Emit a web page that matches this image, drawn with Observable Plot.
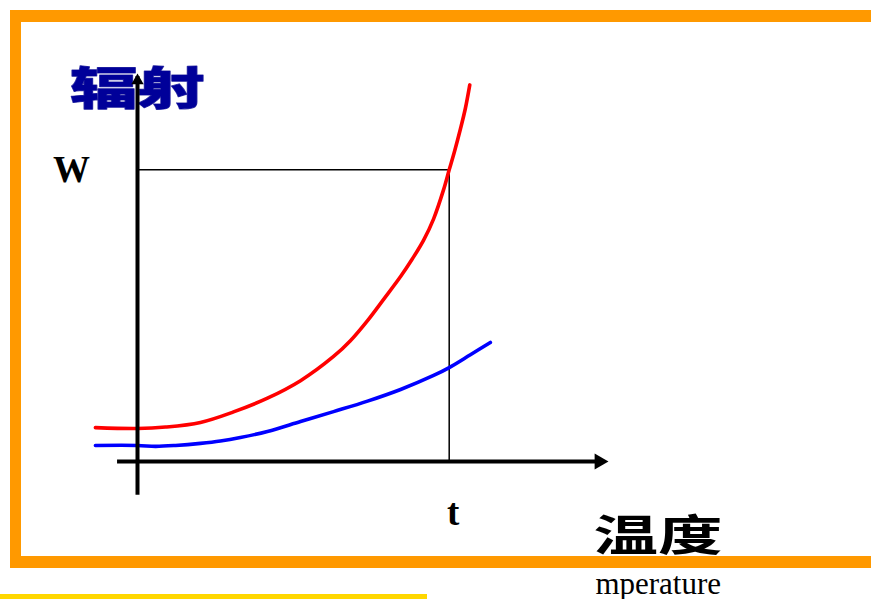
<!DOCTYPE html>
<html><head><meta charset="utf-8">
<script src="https://cdn.jsdelivr.net/npm/d3@7"></script>
<script src="https://cdn.jsdelivr.net/npm/@observablehq/plot@0.6"></script>
<style>
body{margin:0;background:#fff;overflow:hidden}
#wrap{position:relative;width:871px;height:599px;overflow:hidden;background:#fff}
#wrap svg{position:absolute;left:0;top:0}
.band{position:absolute}
</style></head><body>
<div id="wrap"></div>
<script>
// Red curve (higher radiation)
const redTemp = [-13.5, 0, 9.0, 20.2, 30.8, 41.7, 52.3, 62.9, 68.3, 73.8, 78.9, 84.4, 88.2, 91.8, 95.0, 98.2, 100, 101.7, 103.6, 105.2, 106.6];
const redRad  = [11.6, 11.3, 11.8, 13.4, 17.0, 21.7, 27.7, 36.0, 41.4, 48.3, 55.5, 63.4, 69.5, 75.9, 83.2, 93.2, 100, 106.3, 114.0, 121.1, 129.1];
// Blue curve (lower radiation)
const blueTemp = [-13.5, 0, 5.8, 12.2, 20.2, 26.6, 33.0, 41.7, 52.3, 62.9, 73.8, 84.4, 95.0, 100, 106.8, 113.2];
const blueRad  = [5.5, 5.5, 5.2, 5.5, 6.2, 7.0, 8.2, 10.3, 13.7, 17.1, 20.7, 24.7, 29.5, 32.2, 36.6, 40.8];
// Marked values and labels
const wValue = [100];
const tValue = [100];
const yTickLabels = ["W"];
const xTickLabels = ["t"];
const yTitle = ["辐射"];
const xTitle = ["温度"];
const xTitleEn = ["mperature"];
// Axis extents (data units)
const xAxisExtent = [-6.4, 151.1];
const yAxisExtent = [-11.6, 133.0];

const red = redTemp.map((t, i) => ({t, r: redRad[i]}));
const blue = blueTemp.map((t, i) => ({t, r: blueRad[i]}));
const W = wValue[0], T = tValue[0];
const guide = [{t: 0, r: W}, {t: T, r: W}, {t: T, r: 0}];

const serif = "'Liberation Serif', 'Times New Roman', serif";
const cjk = "'Noto Sans CJK SC', sans-serif";

const chart = Plot.plot({
  width: 871,
  height: 599,
  x: {domain: [0, 100], range: [137, 448.7], axis: null},
  y: {domain: [0, 100], range: [461, 169.3], axis: null},
  style: {background: "transparent", overflow: "visible"},
  marks: [
    Plot.text(yTitle, {x: [0], y: [127.2], text: d => d, fontFamily: cjk, fontWeight: 900, fontSize: 45, fill: "#000099", stroke: "#3a3aa8", strokeWidth: 1, textAnchor: "middle", lineAnchor: "middle"}),
    Plot.text(xTitle, {x: [167], y: [-25.9], text: d => d, fontFamily: cjk, fontWeight: 700, fontSize: 43, fill: "#000", textAnchor: "middle", lineAnchor: "middle"}),
    Plot.text(xTitleEn, {x: [146.9], y: [-42.1], text: d => d, fontFamily: serif, fontSize: 31, fill: "#000", textAnchor: "start", lineAnchor: "middle"}),
    Plot.text(yTickLabels, {x: [0], y: wValue, text: d => d, dx: -66, fontFamily: serif, fontWeight: 700, fontSize: 37, fill: "#000", textAnchor: "middle", lineAnchor: "middle"}),
    Plot.text(xTickLabels, {x: tValue, y: [0], text: d => d, dx: 4, dy: 52, fontFamily: serif, fontWeight: 700, fontSize: 37, fill: "#000", textAnchor: "middle", lineAnchor: "middle"}),
    Plot.line(guide, {x: "t", y: "r", stroke: "#000", strokeWidth: 1.5, strokeLinejoin: "miter"}),
    Plot.line(blue, {x: "t", y: "r", stroke: "#0000ff", strokeWidth: 3.6, curve: "catmull-rom"}),
    Plot.line(red, {x: "t", y: "r", stroke: "#ff0000", strokeWidth: 3.6, curve: "catmull-rom"}),
    Plot.ruleY([0], {x1: xAxisExtent[0], x2: xAxisExtent[1] - 2, stroke: "#000", strokeWidth: 4}),
    Plot.ruleX([0], {y1: yAxisExtent[0], y2: yAxisExtent[1] - 1, stroke: "#000", strokeWidth: 4}),
    Plot.dot([{t: xAxisExtent[1], r: 0}], {x: "t", y: "r", symbol: "triangle", r: 5.94, fill: "#000", stroke: "none", rotate: 90, dx: -9.24}),
    Plot.dot([{t: 0, r: yAxisExtent[1]}], {x: "t", y: "r", symbol: "triangle", r: 4.6, fill: "#000", stroke: "none", dy: 7.1})
  ]
});

const wrap = document.getElementById("wrap");
wrap.appendChild(chart);

// Stretch the CJK titles horizontally (around their own centre) like the original wide font
const stretch = new Set([...yTitle, ...xTitle]);
d3.select(chart).selectAll("text").each(function() {
  const el = d3.select(this);
  if (!stretch.has(el.text())) return;
  const bb = this.getBBox();
  const cx = bb.x + bb.width / 2;
  const tr = el.attr("transform") || "";
  el.attr("transform", `${tr} translate(${cx},0) scale(1.5,1) translate(${-cx},0)`);
});

const bands = [
  {left: 10, top: 10, width: 900, height: 11.6, color: "#FF9900"},
  {left: 10, top: 10, width: 11, height: 557.6, color: "#FF9900"},
  {left: 10, top: 556, width: 900, height: 11.6, color: "#FF9900"},
  {left: 0, top: 594, width: 427, height: 5, color: "#FFD700"}
];
for (const b of bands) {
  const d = document.createElement("div");
  d.className = "band";
  Object.assign(d.style, {left: b.left + "px", top: b.top + "px", width: b.width + "px", height: b.height + "px", background: b.color});
  wrap.appendChild(d);
}
</script>
</body></html>
